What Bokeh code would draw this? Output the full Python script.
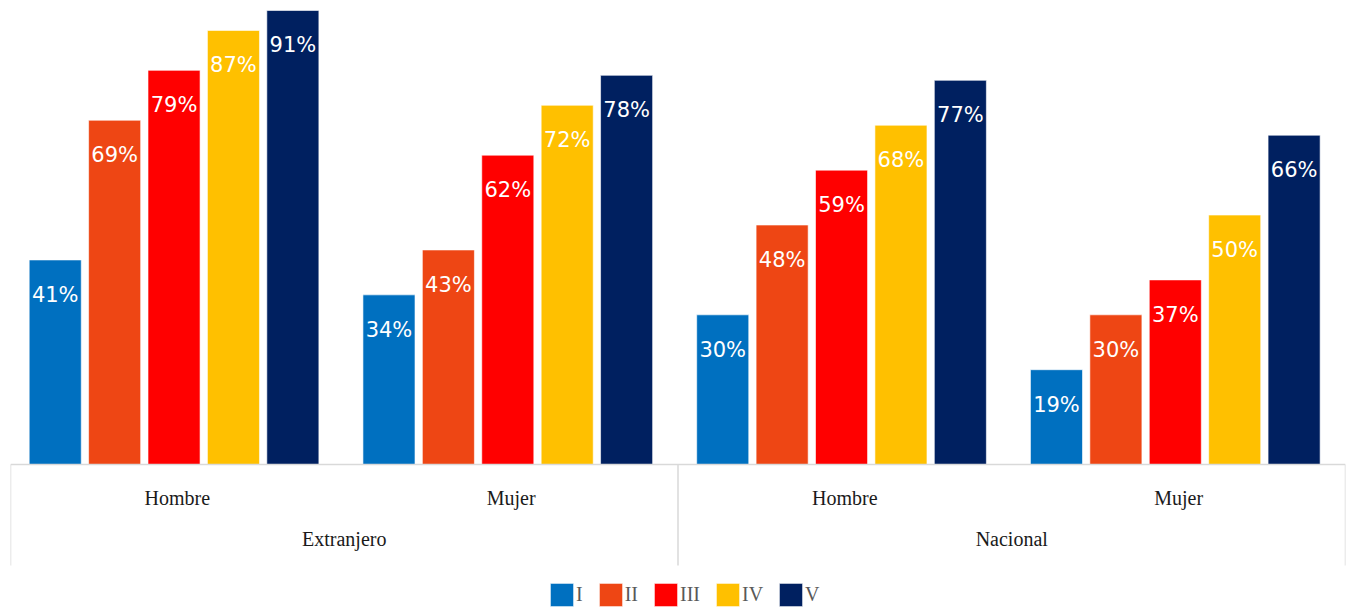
from bokeh.plotting import figure
from bokeh.models import FactorRange, ColumnDataSource, Legend, LegendItem
from bokeh.transform import dodge
from bokeh.core.properties import value
from bokeh.embed import file_html
from bokeh.resources import INLINE

origins = ["Extranjero", "Nacional"]
sexes = ["Hombre", "Mujer"]
series = ["I", "II", "III", "IV", "V"]
colors = ["#0070C0", "#EE4614", "#FF0000", "#FFC000", "#002060"]

vals_I = [41, 34, 30, 19]
vals_II = [69, 43, 48, 30]
vals_III = [79, 62, 59, 37]
vals_IV = [87, 72, 68, 50]
vals_V = [91, 78, 77, 66]
all_vals = [vals_I, vals_II, vals_III, vals_IV, vals_V]

factors = [(o, s) for o in origins for s in sexes]

Y_TOP = 93.0
Y_BOTTOM = Y_TOP - 609 * Y_TOP / 464.0

p = figure(frame_width=1335, frame_height=609,
           x_range=FactorRange(*factors, group_padding=0, range_padding=0),
           y_range=(Y_BOTTOM, Y_TOP), output_backend="svg", toolbar_location=None,
           min_border_left=10, min_border_right=7, min_border_top=0, min_border_bottom=0)

offsets = [-0.366, -0.188, -0.010, 0.168, 0.346]
items = []
for name, col, vals, off in zip(series, colors, all_vals, offsets):
    src = ColumnDataSource(dict(x=factors, top=vals, lab=[f"{v}%" for v in vals]))
    r = p.vbar(x=dodge("x", off, range=p.x_range), top="top", bottom=0, width=0.156, source=src,
               fill_color=col, line_color="white", line_width=0.6)
    p.text(x=dodge("x", off, range=p.x_range), y="top", text="lab", source=src,
           text_color="white", text_font=value("DejaVu Sans"), text_font_size="21px",
           text_align="center", text_baseline="middle", y_offset=35)
    items.append(LegendItem(label=name, renderers=[r]))

# box lines around the category axis
sep_depth = -101 * Y_TOP / 464.0
left_src = ColumnDataSource(dict(x=[(o, sexes[0]) for o in origins],
                                 y0=[0] * len(origins), y1=[sep_depth] * len(origins)))
right_src = ColumnDataSource(dict(x=[(origins[-1], sexes[-1])], y0=[0], y1=[sep_depth]))
for src, off in ((left_src, -0.5), (right_src, 0.5)):
    p.segment(x0=dodge("x", off, range=p.x_range), x1=dodge("x", off, range=p.x_range),
              y0="y0", y1="y1", source=src, line_color="#D9D9D9", line_width=1.5)

legend = Legend(items=items, orientation="horizontal", location=(537, 0),
                label_text_font="Liberation Serif", label_text_font_size="20px",
                label_text_color="#595959", glyph_width=29, glyph_height=29,
                label_width=0, label_standoff=0, spacing=13, padding=0, margin=0,
                border_line_color=None, background_fill_alpha=0)
p.add_layout(legend)

p.yaxis.visible = False
p.ygrid.visible = False
p.xgrid.visible = False
p.outline_line_color = None
ax = p.xaxis[0]
ax.fixed_location = 0
ax.axis_line_color = "#D9D9D9"
ax.axis_line_width = 1.5
ax.major_tick_line_color = None
ax.minor_tick_line_color = None
ax.major_label_text_font = "Liberation Serif"
ax.major_label_text_font_size = "20px"
ax.major_label_text_color = "#1a1a1a"
ax.group_text_font = "Liberation Serif"
ax.group_text_font_size = "20px"
ax.group_text_color = "#1a1a1a"
ax.group_text_font_style = "normal"
ax.separator_line_color = None
ax.major_label_standoff = 16
ax.group_label_orientation = "horizontal"

open("out.html", "w").write(file_html(p, INLINE))
